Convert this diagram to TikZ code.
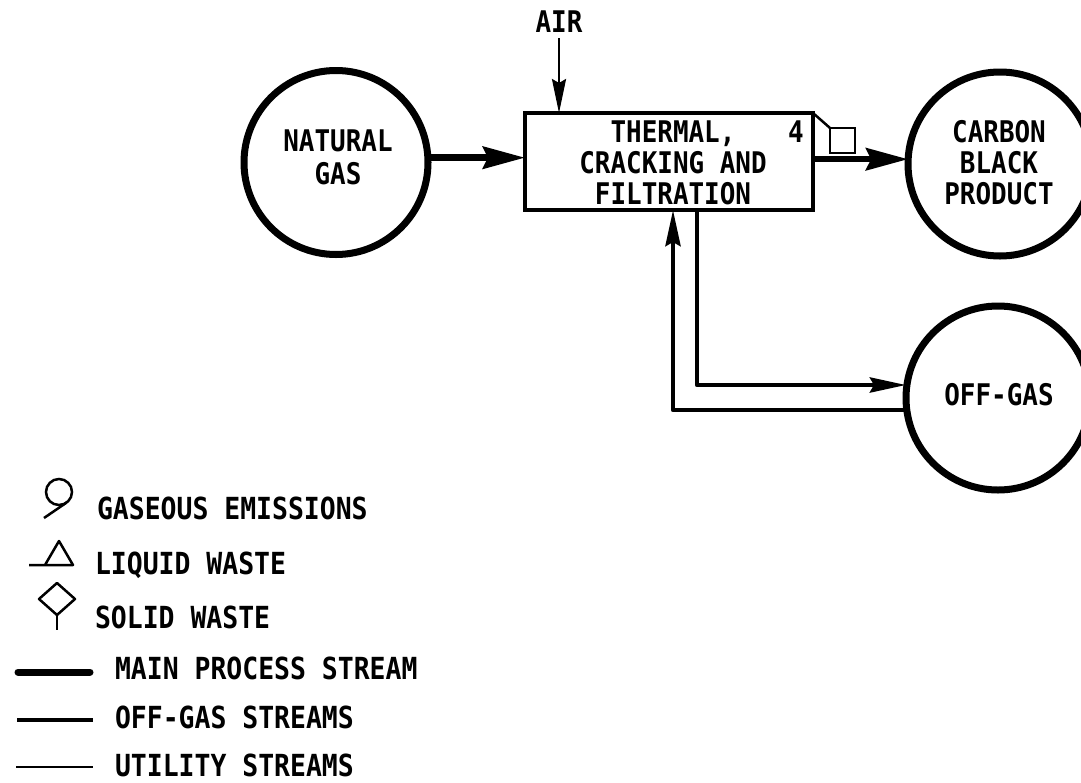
\documentclass[tikz,border=0pt]{standalone}
\usepackage{fontspec}
\newfontfamily\drawfont[FakeStretch=0.87,BoldFont={DejaVu Sans Mono Bold}]{DejaVu Sans Mono}
\usetikzlibrary{arrows.meta}
\tikzset{
  txt/.style={inner sep=0pt,outer sep=0pt,align=center,font=\drawfont\fontsize{29.8}{31}\selectfont\bfseries,text=black},
  leg/.style={inner sep=0pt,outer sep=0pt,anchor=west,font=\drawfont\fontsize{30.4}{31}\selectfont\bfseries,text=black},
  vessel/.style={draw,circle,line width=7pt,minimum size=184pt,inner sep=0pt,outer sep=0pt},
  mainflow/.style={line width=6.5pt,-{Stealth[length=42pt,width=22pt,inset=5pt]}},
  offflow/.style={line width=4.5pt,line join=round,-{Stealth[length=36pt,width=15pt,inset=4pt]}},
  utilflow/.style={line width=2.5pt,-{Stealth[length=34pt,width=14pt,inset=4pt]}},
  sym/.style={line width=2.5pt,line join=round}
}
\begin{document}
\begin{tikzpicture}[x=1pt,y=-1pt]
\useasboundingbox (0,0) rectangle (1081,782);
\clip (0,0) rectangle (1081,782);
\fill[white] (0,0) rectangle (1081,782);
% process vessels
\node[vessel] (ng) at (336,162.5) {};
\node[vessel] (cb) at (1000,164) {};
\node[vessel] (og) at (998,398) {};
\node[draw,line width=4.5pt,minimum width=288pt,minimum height=97pt,inner sep=0pt,outer sep=0pt] (box) at (669,161.5) {};
\node[draw,line width=2.5pt,minimum size=25pt,inner sep=0pt,outer sep=0pt] (tag) at (842.5,140.5) {};
% labels
\node[txt] (lair) at (559,22) {AIR};
\node[txt] (lng) at (338,157) {NATURAL\\[2pt]GAS};
\node[txt] (lbox) at (673,163) {THERMAL,\\CRACKING AND\\FILTRATION};
\node[txt] (lfour) at (796,132) {4};
\node[txt] (lcb) at (999,163) {CARBON\\BLACK\\PRODUCT};
\node[txt] (log) at (999,395) {OFF-GAS};
% connectors
\coordinate (airtop) at (559,38);
\coordinate (s1) at (673,210);
\coordinate (s2) at (697,210);
\coordinate (c1) at (697,385);
\coordinate (c2) at (673,410);
\draw[mainflow] (ng.3) -- (ng.3 -| box.west);
\draw[mainflow] (box.east |- cb.177) -- (cb.177);
\draw[utilflow] (airtop) -- (airtop |- box.north);
\draw[offflow] (s2) -- (c1) -- (c1 -| og.west);
\draw[offflow] (c2 -| og.west) -- (c2) -- (s1);
\draw[line width=2.5pt] (box.north east) -- (tag.north west);
% legend
\node[draw,circle,line width=2.5pt,minimum size=26pt,inner sep=0pt,outer sep=0pt] (gsym) at (59,492) {};
\coordinate (gtail) at (44,518);
\draw[sym] (gsym.-55) -- (gtail);
\coordinate (lq1) at (29,565);
\coordinate (lq2) at (45,565);
\coordinate (lq3) at (59,541);
\coordinate (lq4) at (73,565);
\draw[sym] (lq1) -- (lq4) -- (lq3) -- (lq2);
\coordinate (sd1) at (57,583);
\coordinate (sd2) at (75,599);
\coordinate (sd3) at (57,615);
\coordinate (sd4) at (39,599);
\coordinate (sd5) at (57,630);
\draw[sym] (sd1) -- (sd2) -- (sd3) -- (sd4) -- cycle;
\draw[sym] (sd3) -- (sd5);
\node[leg] (t1) at (97,508) {GASEOUS EMISSIONS};
\node[leg] (t2) at (95,565) {LIQUID WASTE};
\node[leg] (t3) at (95,617) {SOLID WASTE};
\node[leg] (t4) at (115,668) {MAIN PROCESS STREAM};
\node[leg] (t5) at (115,717) {OFF-GAS STREAMS};
\node[leg] (t6) at (115,765) {UTILITY STREAMS};
\coordinate (a4) at (18,672);
\coordinate (b4) at (90,672);
\coordinate (a5) at (17,720);
\coordinate (b5) at (93,720);
\coordinate (a6) at (16,767);
\coordinate (b6) at (93,767);
\draw[line width=7pt,line cap=round] (a4) -- (b4);
\draw[line width=4.5pt] (a5) -- (b5);
\draw[line width=2.5pt] (a6) -- (b6);
\end{tikzpicture}
\end{document}
